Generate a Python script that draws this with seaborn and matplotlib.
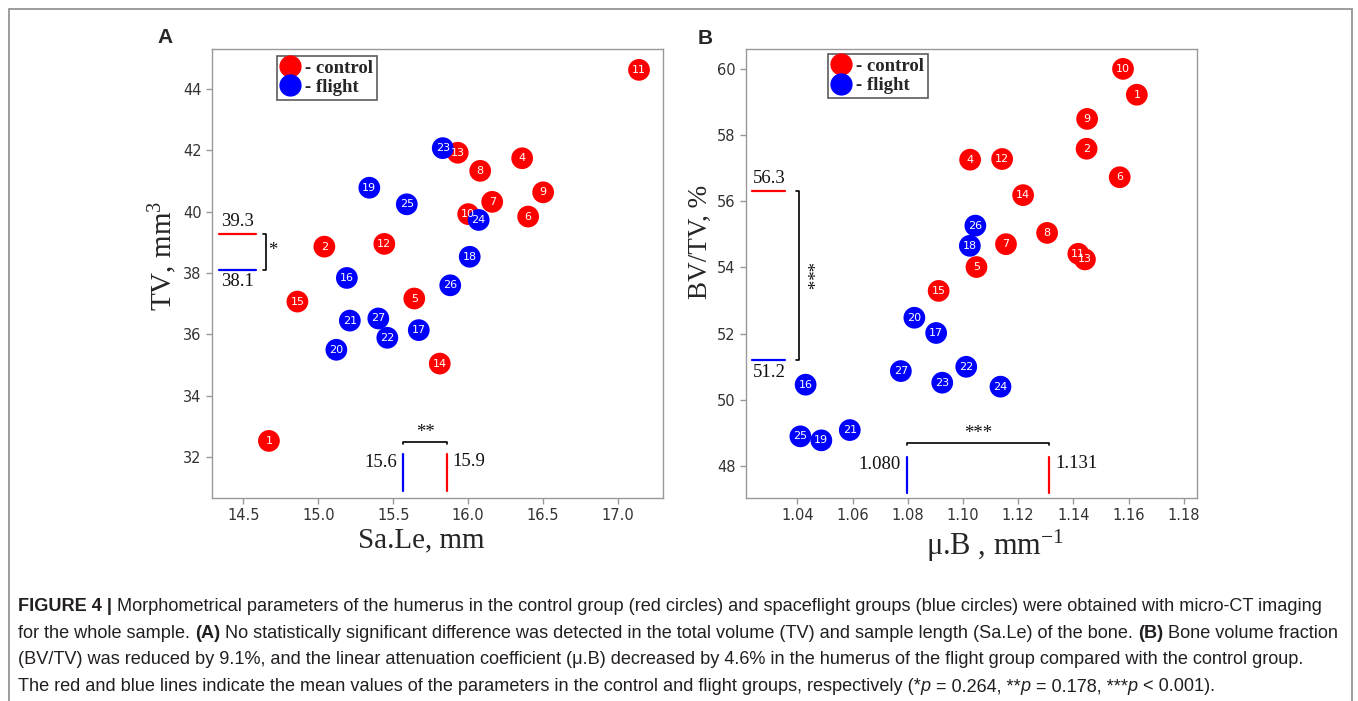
import numpy as np
import pandas as pd
import seaborn as sns
import matplotlib.pyplot as plt
from matplotlib.lines import Line2D
from matplotlib.transforms import IdentityTransform

# ---- data ----
ids_control = [1, 2, 4, 5, 6, 7, 8, 9, 10, 11, 12, 13, 14, 15]
ids_flight = [16, 17, 18, 19, 20, 21, 22, 23, 24, 25, 26, 27]

# panel A: Sa.Le (mm) vs TV (mm3)
sale_control = [14.67, 15.04, 16.36, 15.64, 16.40, 16.16, 16.08, 16.50, 16.00, 17.14, 15.44, 15.93, 15.81, 14.86]
tv_control = [32.53, 38.86, 41.74, 37.17, 39.84, 40.32, 41.33, 40.63, 39.92, 44.62, 38.95, 41.92, 35.05, 37.07]
sale_flight = [15.19, 15.67, 16.01, 15.34, 15.12, 15.21, 15.46, 15.83, 16.07, 15.59, 15.88, 15.40]
tv_flight = [37.84, 36.14, 38.53, 40.78, 35.50, 36.45, 35.89, 42.07, 39.73, 40.24, 37.60, 36.52]

# panel B: mu.B (1/mm) vs BV/TV (%)
mub_control = [1.1630, 1.1448, 1.1026, 1.1049, 1.1568, 1.1156, 1.1305, 1.1450, 1.1580, 1.1418, 1.1142, 1.1442, 1.1218, 1.0912]
bvtv_control = [59.21, 57.58, 57.25, 54.01, 56.72, 54.70, 55.04, 58.48, 59.99, 54.41, 57.27, 54.24, 56.18, 53.29]
mub_flight = [1.0430, 1.0903, 1.1025, 1.0487, 1.0824, 1.0590, 1.1012, 1.0925, 1.1136, 1.0411, 1.1045, 1.0775]
bvtv_flight = [50.46, 52.02, 54.65, 48.78, 52.48, 49.09, 51.00, 50.52, 50.40, 48.90, 55.26, 50.87]

caption_lines = [
    [("FIGURE 4 |", "bold"), (" Morphometrical parameters of the humerus in the control group (red circles) and spaceflight groups (blue circles) were obtained with micro-CT imaging", "normal")],
    [("for the whole sample. ", "normal"), ("(A)", "bold"), (" No statistically significant difference was detected in the total volume (TV) and sample length (Sa.Le) of the bone. ", "normal"), ("(B)", "bold"), (" Bone volume fraction", "normal")],
    [("(BV/TV) was reduced by 9.1%, and the linear attenuation coefficient (\u03bc.B) decreased by 4.6% in the humerus of the flight group compared with the control group.", "normal")],
    [("The red and blue lines indicate the mean values of the parameters in the control and flight groups, respectively (*", "normal"), ("p", "italic"),
     (" = 0.264, **", "normal"), ("p", "italic"), (" = 0.178, ***", "normal"), ("p", "italic"), (" < 0.001).", "normal")],
]

RED = "#ff0000"
BLUE = "#0000ff"
GRAY = "#999999"
SERIF = "Liberation Serif"

sns.set_style("ticks")
plt.rcParams["font.family"] = ["DejaVu Sans"]
plt.rcParams["mathtext.fontset"] = "custom"
plt.rcParams["mathtext.rm"] = SERIF
plt.rcParams["mathtext.it"] = SERIF + ":italic"
plt.rcParams["mathtext.bf"] = SERIF + ":bold"

dfA = pd.DataFrame({
    "id": ids_control + ids_flight,
    "x": sale_control + sale_flight,
    "y": tv_control + tv_flight,
    "group": ["control"] * len(ids_control) + ["flight"] * len(ids_flight),
}).sort_values("id")
dfB = pd.DataFrame({
    "id": ids_control + ids_flight,
    "x": mub_control + mub_flight,
    "y": bvtv_control + bvtv_flight,
    "group": ["control"] * len(ids_control) + ["flight"] * len(ids_flight),
}).sort_values("id")

fig = plt.figure(figsize=(13.58, 7.01), dpi=100)
W, H = 1358, 701
axA = fig.add_axes([212 / W, 203 / H, 451 / W, 449 / H])
axB = fig.add_axes([746 / W, 203 / H, 451 / W, 449 / H])

for ax, df in ((axA, dfA), (axB, dfB)):
    sns.scatterplot(data=df, x="x", y="y", hue="group", palette={"control": RED, "flight": BLUE},
                    s=245, edgecolor="none", linewidth=0, alpha=1, legend=False, ax=ax, zorder=3)
    for _, r in df.iterrows():
        ax.text(r["x"], r["y"], str(r["id"]), ha="center", va="center", color="white",
                fontsize=8, zorder=4)
    for sp in ax.spines.values():
        sp.set_color(GRAY)
        sp.set_linewidth(1)
    ax.tick_params(length=4, width=1, color=GRAY, labelsize=10.5, labelcolor="#333333")
    handles = [Line2D([], [], marker="o", ls="none", color=RED, markersize=15),
               Line2D([], [], marker="o", ls="none", color=BLUE, markersize=15)]
    anchor = (0.144, 0.985) if ax is axA else (0.182, 0.989)
    leg = ax.legend(handles, ["- control", "- flight"], loc="upper left", bbox_to_anchor=anchor,
                    borderaxespad=0, frameon=True, fancybox=False, edgecolor="#333333",
                    handletextpad=0.3, handlelength=1.0, borderpad=0.2, labelspacing=0.12,
                    prop={"family": SERIF, "weight": "bold", "size": 13.5})
    leg.get_frame().set_linewidth(1.2)

# ---- panel A ----
axA.set_xlim(14.29, 17.30)
axA.set_ylim(30.67, 45.30)
axA.set_xticks(np.arange(14.5, 17.01, 0.5))
axA.set_xticklabels([f"{v:.1f}" for v in np.arange(14.5, 17.01, 0.5)])
axA.set_yticks(np.arange(32, 44.1, 2))
axA.set_xlabel("Sa.Le, mm", fontsize=21, family=SERIF, labelpad=3)
axA.set_ylabel("TV, mm$^{\\mathrm{3}}$", fontsize=21, family=SERIF, labelpad=3)
axA.xaxis.label.set_x(0.463)
axA.yaxis.label.set_y(0.539)

mx_c, mx_f = np.mean(sale_control), np.mean(sale_flight)
my_c, my_f = np.mean(tv_control), np.mean(tv_flight)
lbl = dict(family=SERIF, fontsize=13.5, color="#111111")
axA.plot([14.338, 14.584], [my_c, my_c], color=RED, lw=1.6)
axA.plot([14.338, 14.584], [my_f, my_f], color=BLUE, lw=1.6)
axA.text(14.461, my_c + 0.13, f"{my_c:.1f}", ha="center", va="bottom", **lbl)
axA.text(14.461, my_f - 0.12, f"{my_f:.1f}", ha="center", va="top", **lbl)
axA.plot([14.633, 14.651, 14.651, 14.633], [my_c, my_c, my_f, my_f], color="black", lw=1.2)
axA.text(14.665, (my_c + my_f) / 2 + 0.05, "*", ha="left", va="center", **lbl)

axA.plot([mx_f, mx_f], [30.89, 32.11], color=BLUE, lw=1.6)
axA.plot([mx_c, mx_c], [30.89, 32.11], color=RED, lw=1.6)
axA.plot([mx_f, mx_f, mx_c, mx_c], [32.42, 32.49, 32.49, 32.42], color="black", lw=1.2)
axA.text((mx_f + mx_c) / 2, 32.53, "**", ha="center", va="bottom", **lbl)
axA.text(mx_f - 0.04, 31.82, f"{mx_f:.1f}", ha="right", va="center", **lbl)
axA.text(mx_c + 0.035, 31.87, f"{mx_c:.1f}", ha="left", va="center", **lbl)

# ---- panel B ----
axB.set_xlim(1.0214, 1.1848)
axB.set_ylim(47.04, 60.59)
bx = np.arange(1.04, 1.1801, 0.02)
axB.set_xticks(bx)
axB.set_xticklabels([f"{v:.2f}" for v in bx])
axB.set_yticks(np.arange(48, 60.1, 2))
axB.set_xlabel("\u03bc.B , mm$^{\\mathrm{-1}}$", fontsize=22, family=SERIF, labelpad=3)
axB.set_ylabel("BV/TV, %", fontsize=19.5, family=SERIF, labelpad=3)
axB.xaxis.label.set_x(0.552)
axB.yaxis.label.set_y(0.571)

mx_c, mx_f = np.mean(mub_control), np.mean(mub_flight)
my_c, my_f = np.mean(bvtv_control), np.mean(bvtv_flight)
axB.plot([1.0235, 1.0355], [my_c, my_c], color=RED, lw=1.6)
axB.plot([1.0235, 1.0355], [my_f, my_f], color=BLUE, lw=1.6)
axB.text(1.0297, my_c + 0.12, f"{my_c:.1f}", ha="center", va="bottom", **lbl)
axB.text(1.0297, my_f - 0.12, f"{my_f:.1f}", ha="center", va="top", **lbl)
axB.plot([1.0394, 1.0406, 1.0406, 1.0394], [my_c, my_c, my_f, my_f], color="black", lw=1.2)
axB.text(1.0428, 53.74, "***", ha="center", va="center", rotation=-90, **lbl)

axB.plot([mx_f, mx_f], [47.2, 48.28], color=BLUE, lw=1.6)
axB.plot([mx_c, mx_c], [47.2, 48.28], color=RED, lw=1.6)
axB.plot([mx_f, mx_f, mx_c, mx_c], [48.63, 48.71, 48.71, 48.63], color="black", lw=1.2)
axB.text((mx_f + mx_c) / 2, 48.74, "***", ha="center", va="bottom", **lbl)
axB.text(mx_f - 0.0022, 48.05, f"{mx_f:.3f}", ha="right", va="center", **lbl)
axB.text(mx_c + 0.0026, 48.07, f"{mx_c:.3f}", ha="left", va="center", **lbl)

# ---- panel letters, frame, caption ----
fig.text(157 / W, 1 - 43 / H, "A", fontsize=15, fontweight="bold", family="Liberation Sans", va="baseline")
fig.text(698 / W, 1 - 44 / H, "B", fontsize=15, fontweight="bold", family="Liberation Sans", va="baseline")

frame = plt.Rectangle((8.5 / W, -0.02), (1351.5 - 8.5) / W, 1.02 - 8.5 / H, transform=fig.transFigure,
                      fill=False, edgecolor="#8c8c8c", lw=1.2)
fig.add_artist(frame)

renderer = fig.canvas.get_renderer()
cap_kw = dict(family="Liberation Sans", fontsize=13.1, color="#231f20")


def style_kw(st):
    kw = dict(cap_kw)
    if st == "bold":
        kw["fontweight"] = "bold"
    elif st == "italic":
        kw["fontstyle"] = "italic"
    return kw


def text_w(s, kw):
    t = fig.text(0, 0, s, transform=IdentityTransform(), **kw)
    w = t.get_window_extent(renderer).width
    t.remove()
    return w


baselines = [611, 638, 664, 691]
for parts, base in zip(caption_lines, baselines):
    x = 18
    for s, st in parts:
        kw = style_kw(st)
        sw = text_w("a a", kw) - text_w("aa", kw)
        lead = len(s) - len(s.lstrip(" "))
        trail = len(s) - len(s.rstrip(" "))
        x += lead * sw
        t = fig.text(x, H - base, s.strip(" "), transform=IdentityTransform(), va="baseline", **kw)
        x += t.get_window_extent(renderer).width + trail * sw

fig.savefig("out.png", dpi=100)
